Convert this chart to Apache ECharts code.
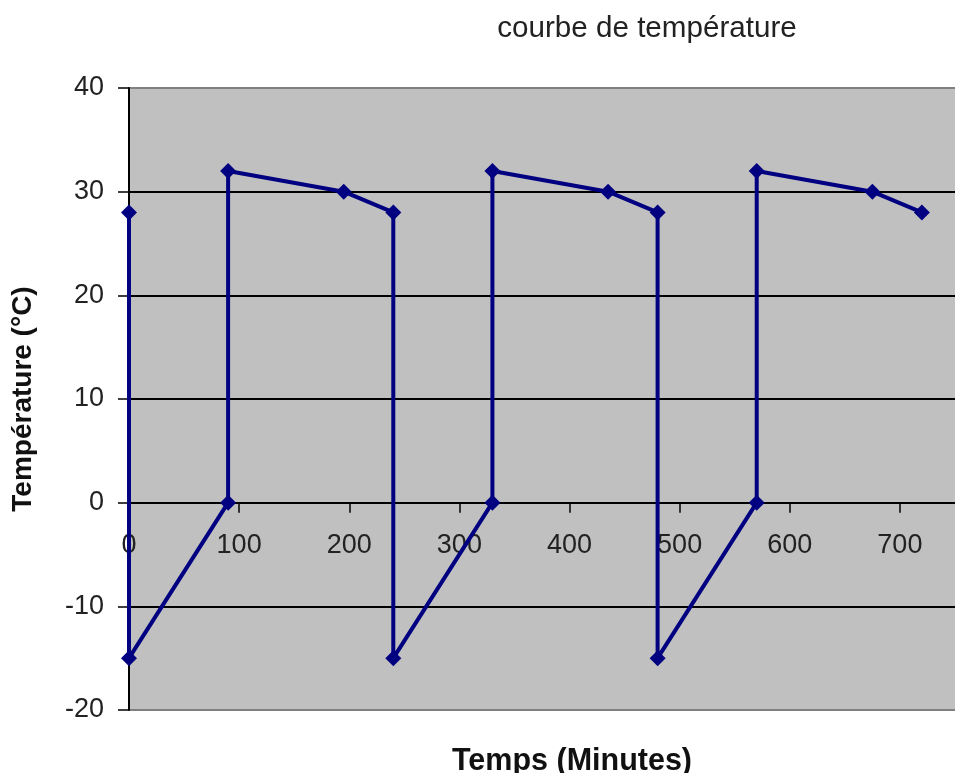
<!DOCTYPE html>
<html>
<head>
<meta charset="utf-8">
<script src="https://cdn.jsdelivr.net/npm/echarts@6/dist/echarts.min.js"></script>
<style>
  html, body { margin: 0; padding: 0; background: #ffffff; }
  #chart { width: 955px; height: 773px; }
</style>
</head>
<body>
<div id="chart"></div>
<script>
// Temperature cycle: time in minutes and measured temperature in °C
const timeMinutes = [0, 0, 90, 90, 195, 240, 240, 330, 330, 435, 480, 480, 570, 570, 675, 720];
const temperature = [28, -15, 0, 32, 30, 28, -15, 0, 32, 30, 28, -15, 0, 32, 30, 28];

const chartTitle = 'courbe de température';
const xTitle = 'Temps (Minutes)';
const yTitle = 'Température (°C)';

const points = timeMinutes.map((t, i) => [t, temperature[i]]);

const FONT = '"Liberation Sans", Arial, sans-serif';

// Plot area geometry (the time axis runs past the right edge of the canvas)
const GRID_LEFT = 129, GRID_TOP = 88, GRID_BOTTOM = 63, GRID_WIDTH = 881;
const Y_MIN = -20, Y_MAX = 40;
const plotHeight = 773 - GRID_TOP - GRID_BOTTOM;
// distance from the bottom of the plot up to the 0 °C line, where the time axis sits
const zeroOffset = plotHeight * (0 - Y_MIN) / (Y_MAX - Y_MIN);

const chart = echarts.init(document.getElementById('chart'), null, { renderer: 'canvas' });

chart.setOption({
  animation: false,
  backgroundColor: '#ffffff',
  title: [
    {
      text: chartTitle,
      left: 642,
      top: 9,
      textAlign: 'center',
      textStyle: { fontFamily: FONT, fontSize: 29.6, fontWeight: 'normal', color: '#222' }
    },
    {
      text: xTitle,
      left: 567,
      top: 741,
      textAlign: 'center',
      textStyle: { fontFamily: FONT, fontSize: 30.5, fontWeight: 'bold', color: '#111' }
    }
  ],
  grid: {
    show: true,
    left: GRID_LEFT,
    top: GRID_TOP,
    bottom: GRID_BOTTOM,
    width: GRID_WIDTH,
    outerBoundsMode: 'none',
    containLabel: false,
    backgroundColor: '#c0c0c0',
    borderWidth: 0
  },
  xAxis: {
    type: 'value',
    min: 0,
    max: 800,
    interval: 100,
    position: 'bottom',
    offset: -zeroOffset,
    axisLine: { show: true, onZero: false, lineStyle: { color: '#000', width: 2 } },
    axisTick: { show: true, length: 10, lineStyle: { color: '#000', width: 1.5 } },
    axisLabel: { margin: 29, fontFamily: FONT, fontSize: 27, color: '#222' },
    splitLine: { show: false }
  },
  yAxis: {
    type: 'value',
    min: Y_MIN,
    max: Y_MAX,
    interval: 10,
    name: yTitle,
    nameLocation: 'middle',
    nameRotate: 90,
    nameGap: 92,
    nameTextStyle: { fontFamily: FONT, fontSize: 28, fontWeight: 'bold', color: '#111' },
    axisLine: { show: true, lineStyle: { color: '#000', width: 2 } },
    axisTick: { show: true, length: 11, lineStyle: { color: '#000', width: 1.5 } },
    axisLabel: { margin: 25, fontFamily: FONT, fontSize: 27, color: '#222' },
    splitLine: {
      show: true,
      lineStyle: {
        color: ['#808080', '#000', '#000', '#000', '#000', '#000', '#808080'],
        width: 2
      }
    }
  },
  series: [
    {
      type: 'line',
      data: points,
      clip: false,
      symbol: 'diamond',
      symbolSize: 16,
      itemStyle: { color: '#000080' },
      lineStyle: { color: '#000080', width: 4 },
      z: 5
    }
  ]
});
</script>
</body>
</html>
